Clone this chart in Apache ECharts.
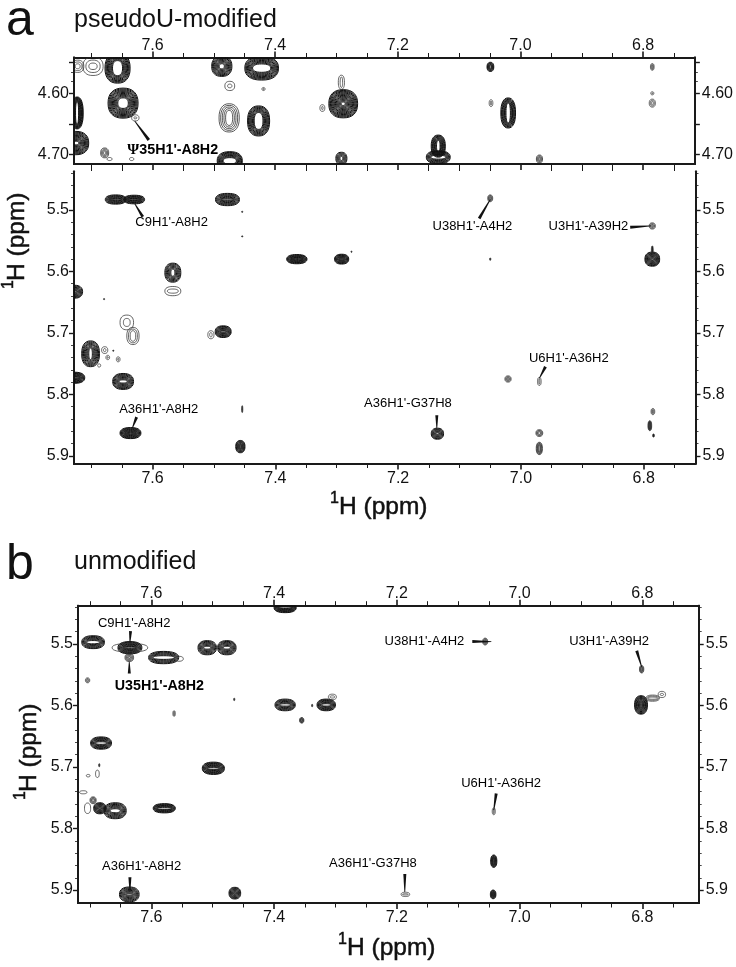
<!DOCTYPE html>
<html><head><meta charset="utf-8">
<style>html,body{margin:0;padding:0;background:#fff}#c{width:736px;height:967px}</style>
<script src="https://cdn.jsdelivr.net/npm/echarts@6/dist/echarts.min.js"></script></head>
<body><div id="c"></div>
<script>
// Ticks (ppm)
const xMajor=[7.6,7.4,7.2,7.0,6.8];
const xMinor=[7.70,7.65,7.55,7.50,7.45,7.35,7.30,7.25,7.15,7.10,7.05,6.95,6.90,6.85,6.75];
const topYLabels=[4.6,4.7];
const topYMajor=[4.55,4.6,4.65,4.7];
const topYMinor=[4.565,4.58];
const lowerYMajor=[5.5,5.6,5.7,5.8,5.9];
const lowerYMinor=[5.44,5.46,5.48,5.52,5.54,5.56,5.58,5.62,5.64,5.66,5.68,5.72,5.74,5.76,5.78,5.82,5.84,5.86,5.88];
// Peaks: [F2 ppm, F1 ppm, F2 width, F1 width, contour levels, hollow centre]
const topPeaks=[
[7.722,4.556,.020,.020,3,.4],[7.697,4.556,.033,.030,3,.35],[7.657,4.559,.041,.049,8,.4],[7.487,4.556,.033,.033,9,.25],
[7.422,4.559,.055,.039,9,.35],[7.419,4.593,.005,.005,2,.3],[7.474,4.588,.016,.015,2,.4],[7.723,4.632,.020,.052,9,.25],
[7.648,4.616,.049,.049,8,.35],[7.628,4.640,.012,.010,2,.3],[7.475,4.640,.033,.046,5,.35],[7.427,4.645,.036,.049,7,.4],[7.289,4.617,.047,.046,11,.12],
[7.292,4.582,.010,.023,2,.4],[7.323,4.624,.008,.011,2,.3],[7.474,4.710,.041,.030,9,.35],[7.292,4.706,.018,.020,6,.25],
[7.725,4.681,.042,.038,11,.15],[7.678,4.697,.013,.016,4,.25],[7.634,4.707,.007,.005,1,.5],[7.670,4.707,.008,.005,1,.5],
[7.049,4.557,.011,.015,6,.2],[6.785,4.557,.006,.011,3,.2],[6.785,4.600,.005,.005,2,.3],[6.785,4.616,.010,.013,3,.3],
[7.048,4.616,.006,.011,2,.3],[7.020,4.632,.024,.049,8,.3],[7.134,4.686,.023,.036,9,.25],[7.134,4.704,.039,.021,7,.3],[6.969,4.707,.010,.013,4,.2]];
const midPeaks=[
[7.660,5.483,.034,.015,7,.1],[7.630,5.483,.034,.014,7,.1],[7.478,5.483,.039,.020,8,.1],[7.050,5.481,.008,.011,4,.2],[6.786,5.526,.010,.010,4,.2],
[7.454,5.503,.002,.002,1,1],[7.454,5.543,.002,.002,1,1],[7.276,5.568,.002,.002,1,1],[7.050,5.580,.002,.004,1,1],
[7.365,5.580,.033,.015,8,.1],[7.292,5.580,.023,.016,9,.1],[6.786,5.580,.024,.023,11,.1],[6.786,5.565,.003,.013,1,1],
[7.567,5.602,.026,.031,6,.25],[7.567,5.632,.026,.015,2,.45],[7.727,5.633,.026,.021,9,.1],[7.679,5.645,.002,.002,1,1],
[7.642,5.683,.022,.024,2,.5],[7.632,5.705,.020,.028,3,.45],[7.485,5.698,.026,.019,9,.1],[7.505,5.703,.010,.013,2,.4],
[7.701,5.734,.029,.042,8,.2],[7.678,5.728,.010,.011,2,.4],[7.673,5.740,.006,.007,2,.3],[7.656,5.743,.006,.008,2,.3],[7.687,5.753,.005,.005,1,1],[7.664,5.729,.002,.002,1,1],
[7.727,5.773,.033,.018,9,.1],[7.648,5.779,.034,.026,8,.2],[7.636,5.863,.034,.018,9,.1],[7.457,5.885,.015,.020,8,.1],[7.454,5.824,.002,.011,1,1],
[7.021,5.775,.010,.010,4,.2],[6.970,5.779,.006,.013,2,.3],[7.136,5.864,.020,.018,8,.15],[6.970,5.863,.011,.011,4,.35],[6.970,5.888,.010,.020,5,.2],
[6.790,5.851,.006,.016,5,.1],[6.785,5.828,.006,.010,3,.2],[6.784,5.867,.003,.005,1,1]];
const lowPeaks=[
[7.695,5.497,.037,.021,7,.25],[7.635,5.506,.039,.020,9,.1],[7.635,5.506,.058,.014,1,1],[7.636,5.522,.014,.013,5,.2],[7.580,5.522,.049,.020,6,.3],[7.555,5.524,.014,.008,1,.5],
[7.509,5.506,.030,.023,7,.2],[7.477,5.506,.030,.023,7,.2],[7.704,5.559,.007,.008,3,.3],[7.563,5.613,.004,.009,2,.4],[7.465,5.590,.002,.004,1,1],
[7.382,5.599,.033,.019,7,.2],[7.315,5.599,.030,.019,8,.2],[7.305,5.586,.013,.009,2,.4],[7.355,5.624,.007,.009,5,.2],[7.338,5.600,.002,.004,1,1],
[7.382,5.441,.036,.016,8,.15],[7.682,5.661,.034,.020,8,.2],[7.499,5.702,.036,.020,9,.15],[7.685,5.697,.002,.005,1,1],[7.688,5.711,.006,.012,1,1],[7.703,5.714,.006,.004,1,1],
[7.711,5.741,.012,.005,1,1],[7.695,5.754,.010,.011,4,.3],[7.684,5.767,.020,.018,9,.1],[7.659,5.771,.036,.026,6,.25],[7.704,5.767,.010,.017,1,1],
[7.579,5.767,.036,.015,7,.2],[7.636,5.907,.032,.024,9,.1],[7.464,5.905,.019,.019,9,.1],[7.056,5.496,.008,.011,4,.2],[6.801,5.541,.007,.012,4,.2],
[6.802,5.599,.021,.030,10,.1],[6.783,5.588,.022,.010,3,.35],[6.768,5.582,.012,.010,2,.35],[7.042,5.772,.005,.011,2,.3],[7.042,5.853,.010,.020,6,.15],[7.043,5.907,.009,.014,6,.1],[7.186,5.907,.014,.007,2,.3]];
// Assignments and leaders
const topLabels=[[7.567,4.692,"{p|\u03A8}35H1'-A8H2"]];
const midLabels=[[7.569,5.521,"C9H1'-A8H2"],[7.079,5.527,"U38H1'-A4H2"],[6.890,5.527,"U3H1'-A39H2"],[6.922,5.741,"U6H1'-A36H2"],[7.184,5.815,"A36H1'-G37H8"],[7.590,5.825,"A36H1'-A8H2"]];
const lowLabels=[[7.628,5.466,"C9H1'-A8H2"],[7.155,5.496,"U38H1'-A4H2"],[6.854,5.496,"U3H1'-A39H2"],[7.030,5.727,"U6H1'-A36H2"],[7.239,5.856,"A36H1'-G37H8"],[7.616,5.862,"A36H1'-A8H2"]];
const lowBold=[[7.587,5.568,"U35H1'-A8H2"]];
const topLeaders=[[7.629,4.645,7.606,4.676]];
const midLeaders=[[7.629,5.490,7.616,5.511],[7.050,5.483,7.068,5.514],[6.788,5.526,6.822,5.528],[6.970,5.774,6.960,5.755],[7.137,5.855,7.137,5.834],[7.633,5.855,7.626,5.837]];
const lowLeaders=[[7.635,5.498,7.634,5.479],[7.636,5.529,7.636,5.548],[7.046,5.496,7.077,5.496],[6.801,5.537,6.809,5.511],[7.042,5.770,7.038,5.743],[7.187,5.903,7.187,5.874],[7.635,5.903,7.635,5.879]];

const FONT='"Liberation Sans",Arial,sans-serif', INK='#1a1a1a';
const panels=[
 {grid:{left:74,top:57.5,width:621.5,height:106.5},x:[6.7156,7.728],y:[4.5417,4.7151],peaks:topPeaks,leaders:topLeaders,bold:topLabels,labels:[],
  xSides:[['top',true,xMajor],['bottom',false,xMajor]],yl:topYLabels,ym:topYMajor,yn:topYMinor,d:2},
 {grid:{left:74,top:171.5,width:621.5,height:292},x:[6.7156,7.728],y:[5.4374,5.9125],peaks:midPeaks,leaders:midLeaders,labels:midLabels,bold:[],
  xSides:[['bottom',true,xMajor]],yl:lowerYMajor,ym:lowerYMajor,yn:lowerYMinor,d:1},
 {grid:{left:78,top:605.7,width:620.7,height:297.3},x:[6.708,7.7196],y:[5.4377,5.921],peaks:lowPeaks,leaders:lowLeaders,labels:lowLabels,bold:lowBold,
  xSides:[['top',true,xMajor],['bottom',true,xMajor]],yl:lowerYMajor,ym:lowerYMajor,yn:lowerYMinor,d:1}];

const xAxes=[],yAxes=[],series=[];
function ax(list,g,pos,ext,ticks,labels,len,dec,w,margin){
 list.push({type:'value',gridIndex:g,position:pos,min:ext[0],max:ext[1],inverse:true,splitLine:{show:false},minorTick:{show:false},
  axisLine:{show:true,onZero:false,lineStyle:{color:INK,width:2}},
  axisTick:{show:true,length:len,customValues:ticks,lineStyle:{color:INK,width:w}},
  axisLabel:labels?{show:true,customValues:labels,margin,color:'#111',fontFamily:FONT,fontSize:16,formatter:v=>v.toFixed(dec),hideOverlap:false}:{show:false}});
 return list.length-1;
}
function renderPeak(p,api){
 const c=api.coord([api.value(0),api.value(1)]),s=api.size([api.value(2),api.value(3)]);
 const n=api.value(4),h=api.value(5),kids=[];
 const A=s[0]/2,B=s[1]/2,R=Math.min(A,B),dark=n>=6;
 const count=n<2?1:(dark?Math.max(n,Math.round(R*(1-h)/.85)+1):n);
 const step=count>1?R*(1-h)/(count-1):0;
 for(let i=0;i<count;i++){
  const a=Math.max(A-step*i,.4),b=Math.max(B-step*i,.4),pts=[];
  for(let t=0;t<32;t++){
   const q=t/32*2*Math.PI,cs=Math.cos(q),sn=Math.sin(q);
   pts.push([c[0]+a*Math.sign(cs)*Math.pow(Math.abs(cs),.85),c[1]+b*Math.sign(sn)*Math.pow(Math.abs(sn),.85)]);
  }
  kids.push({type:'polygon',shape:{points:pts},style:{fill:n==1&&s[0]<3?'#222':'none',stroke:dark?'#111':(n>3?'#222':'#333'),lineWidth:dark?1:.75}});
 }
 return {type:'group',children:kids};
}
function renderLeader(p,api){
 const a=api.coord([api.value(0),api.value(1)]),b=api.coord([api.value(2),api.value(3)]);
 const dx=b[0]-a[0],dy=b[1]-a[1],l=Math.hypot(dx,dy)||1,nx=-dy/l,ny=dx/l;
 return {type:'polygon',shape:{points:[[a[0]+nx*.4,a[1]+ny*.4],[b[0]+nx*1.5,b[1]+ny*1.5],[b[0]-nx*1.5,b[1]-ny*1.5],[a[0]-nx*.4,a[1]-ny*.4]]},style:{fill:'#111'}};
}
panels.forEach((P,g)=>{
 let xi;
 P.xSides.forEach(([pos,lab],i)=>{
  const m=ax(xAxes,g,pos,P.x,xMajor,lab?xMajor:null,6,1,1.6,pos=='top'?4:7);
  if(i==0) xi=m;
  ax(xAxes,g,pos,P.x,xMinor,null,pos=='bottom'&&g==0?7:4.5,1,1,0);
 });
 const yi=ax(yAxes,g,'left',P.y,P.ym,P.yl,5,P.d,1.4,5);
 ax(yAxes,g,'left',P.y,P.yn,null,3,1,.8,0);
 ax(yAxes,g,'right',P.y,P.ym,P.yl,5,P.d,1.4,7);
 ax(yAxes,g,'right',P.y,P.yn,null,3,1,.8,0);
 const base={xAxisIndex:xi,yAxisIndex:yi,silent:true,animation:false};
 series.push({...base,type:'custom',clip:true,renderItem:renderPeak,encode:{x:0,y:1},data:P.peaks});
 series.push({...base,type:'custom',clip:true,renderItem:renderLeader,encode:{x:0,y:1},data:P.leaders});
 const lab=(arr,weight,size)=>({...base,type:'scatter',symbolSize:1,itemStyle:{color:'rgba(0,0,0,0)',opacity:1},
   data:arr.map(d=>({value:[d[0],d[1]],name:d[2]})),
   label:{show:true,position:'inside',formatter:'{b}',opacity:1,color:'#000',fontFamily:FONT,fontSize:size,fontWeight:weight,
     rich:{p:{fontFamily:'"Liberation Serif",serif',fontWeight:'bold',fontSize:size+1,color:'#000'}}}});
 if(P.labels.length) series.push(lab(P.labels,'normal',13));
 if(P.bold.length) series.push(lab(P.bold,'bold',14.3));
});
const big=(text,x,y,size,extra)=>({type:'text',x,y,silent:true,style:Object.assign({text,fontFamily:FONT,fontSize:size,fill:'#111',textAlign:'left',textVerticalAlign:'middle'},extra||{})});
const heavy={stroke:'#111',lineWidth:.5};
const graphics=[
 big('a',6,21,50),big('pseudoU-modified',74,20,25),
 big('b',6,565,50),big('unmodified',74,562,25),
 big('1',330,499,16,heavy),big('H (ppm)',339,507,24.5,heavy),
 big('1',338,940,16,heavy),big('H (ppm)',347,948,24.5,heavy),
 Object.assign(big('1',9,289,16,heavy),{rotation:Math.PI/2}),
 Object.assign(big('H (ppm)',17,281,24.5,heavy),{rotation:Math.PI/2}),
 Object.assign(big('1',21,800,16,heavy),{rotation:Math.PI/2}),
 Object.assign(big('H (ppm)',29,792,24.5,heavy),{rotation:Math.PI/2})];
const chart=echarts.init(document.getElementById('c'),null,{renderer:'canvas'});
chart.setOption({animation:false,backgroundColor:'#fff',grid:panels.map(p=>Object.assign({containLabel:false},p.grid)),xAxis:xAxes,yAxis:yAxes,series,graphic:{elements:graphics}});
</script></body></html>
